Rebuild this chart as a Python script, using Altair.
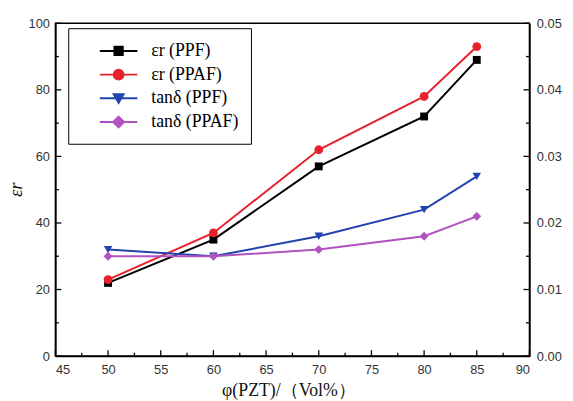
import altair as alt
import pandas as pd

x_vals = [50, 60, 70, 80, 85]
er_ppf = [22, 35, 57, 72, 89]
er_ppaf = [23, 37, 62, 78, 93]
tan_ppf = [0.016, 0.015, 0.018, 0.022, 0.027]
tan_ppaf = [0.015, 0.015, 0.016, 0.018, 0.021]

series_names = ["εr (PPF)", "εr (PPAF)", "tanδ (PPF)", "tanδ (PPAF)"]
series_colors = ["#000000", "#e8202a", "#2343ae", "#b052c0"]
marker_shapes = ["square", "circle", "triangle-down", "diamond"]
marker_sizes = [64, 80, 75, 80]

legend_paths = [
    "M-1.9,0H1.9M-0.42,-0.42H0.42V0.42H-0.42Z",
    "M-1.9,0H1.9M-0.5,0A0.5,0.5 0 1,0 0.5,0A0.5,0.5 0 1,0 -0.5,0Z",
    "M-1.9,0H1.9M-0.5,-0.42L0.5,-0.42L0,0.45Z",
    "M-1.9,0H1.9M0,-0.55L0.55,0L0,0.55L-0.55,0Z",
]

x_major = [45, 50, 55, 60, 65, 70, 75, 80, 85, 90]
x_minor = [47.5, 52.5, 57.5, 62.5, 67.5, 72.5, 77.5, 82.5, 87.5]
left_major = [0, 20, 40, 60, 80, 100]
left_minor = [10, 30, 50, 70, 90]
right_major = [0.0, 0.01, 0.02, 0.03, 0.04, 0.05]
right_minor = [0.005, 0.015, 0.025, 0.035, 0.045]

W, H = 480, 337

axis_common = dict(
    ticks=False,
    labelFont="Liberation Sans",
    labelFontSize=13,
    labelColor="#333",
    labelOverlap=False,
    domainColor="#000",
    domainWidth=1.5,
    grid=False,
)

x_scale = alt.Scale(domain=[45, 90], nice=False, zero=False)
x_enc = alt.X(
    "x:Q",
    scale=x_scale,
    axis=alt.Axis(
        values=x_major,
        title="φ(PZT)/（Vol%）",
        titleFont="Liberation Serif",
        titleFontSize=18,
        titleFontWeight="normal",
        titleColor="#111",
        titlePadding=5,
        titleX=236,
        labelPadding=8,
        **axis_common,
    ),
)

left_scale = alt.Scale(domain=[0, 100], nice=False)
left_y = alt.Y(
    "value:Q",
    scale=left_scale,
    axis=alt.Axis(
        values=left_major,
        title="εr",
        titleFont="Liberation Serif",
        titleFontStyle="italic",
        titleFontSize=19,
        titleFontWeight="normal",
        titleColor="#111",
        titleX=-30,
        titleY=168,
        labelPadding=6,
        **axis_common,
    ),
)

right_scale = alt.Scale(domain=[0, 0.05], nice=False)
right_y = alt.Y(
    "value:Q",
    scale=right_scale,
    axis=alt.Axis(
        orient="right",
        values=right_major,
        format=".2f",
        title=None,
        labelPadding=7,
        **axis_common,
    ),
)


def tick_rules(values, field, length, horizontal_axis, side_x=None):
    d = pd.DataFrame({field: values})
    m = alt.Chart(d).mark_rule(color="#000", strokeWidth=1.3)
    if horizontal_axis:
        return m.encode(x=alt.X(f"{field}:Q", scale=x_scale), y=alt.value(H), y2=alt.value(H - length))
    return m.encode(y=alt.Y(f"{field}:Q"), x=alt.value(side_x), x2=alt.value(side_x + length))


def series_layers(i, vals, y_enc):
    d = pd.DataFrame({"x": x_vals, "value": vals})
    base = alt.Chart(d)
    line = base.mark_line(strokeWidth=2, color=series_colors[i]).encode(x=x_enc, y=y_enc)
    pts = base.mark_point(
        filled=True, opacity=1, shape=marker_shapes[i], size=marker_sizes[i], color=series_colors[i]
    ).encode(x=x_enc, y=y_enc)
    return [line, pts]


left = alt.layer(
    tick_rules(x_major, "x", 6, True),
    tick_rules(x_minor, "x", 3.5, True),
    tick_rules(left_major, "value", 6, False, 0),
    tick_rules(left_minor, "value", 3.5, False, 0),
    *series_layers(0, er_ppf, left_y),
    *series_layers(1, er_ppaf, left_y),
)
right = alt.layer(
    tick_rules(right_major, "value", -6, False, W),
    tick_rules(right_minor, "value", -3.5, False, W),
    *series_layers(2, tan_ppf, right_y),
    *series_layers(3, tan_ppaf, right_y),
)

leg_df = pd.DataFrame({"series": series_names})
legend_layer = alt.Chart(leg_df).mark_point(filled=True, clip=True, opacity=1, strokeWidth=2).encode(
    x=alt.value(-200),
    y=alt.value(-200),
    fill=alt.Fill(
        "series:N",
        scale=alt.Scale(domain=series_names, range=series_colors),
        legend=alt.Legend(
            orient="none",
            legendX=13,
            legendY=5,
            title=None,
            strokeColor="#000",
            fillColor="#fff",
            padding=12,
            symbolOffset=28,
            symbolSize=400,
            symbolStrokeWidth=2,
            symbolOpacity=1,
            labelOffset=22,
            labelFont="Liberation Serif",
            labelFontSize=18,
            labelColor="#000",
            labelLimit=300,
            rowPadding=4,
        ),
    ),
    stroke=alt.Stroke("series:N", scale=alt.Scale(domain=series_names, range=series_colors)),
    shape=alt.Shape("series:N", scale=alt.Scale(domain=series_names, range=legend_paths)),
)

chart = (
    alt.layer(left, right, legend_layer)
    .resolve_scale(y="independent")
    .properties(
        width=W,
        height=H,
        autosize=alt.AutoSizeParams(type="none"),
        padding={"left": 48, "top": 13, "right": 36, "bottom": 43},
        background="#ffffff",
    )
    .configure_view(stroke="#000", strokeWidth=1.5)
    .configure_legend(labelFont="Liberation Serif", labelFontSize=18, labelColor="#000")
)

chart.save("out.html", embed_options={"renderer": "svg", "actions": False})
